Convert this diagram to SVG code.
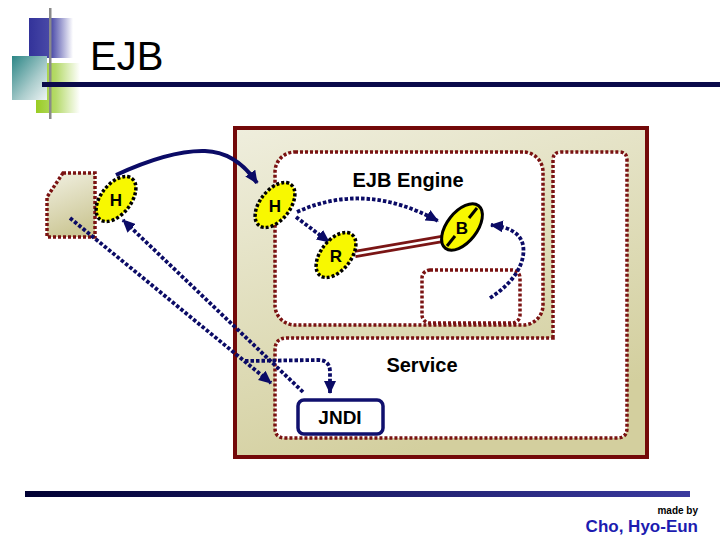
<svg xmlns="http://www.w3.org/2000/svg" width="720" height="540" viewBox="0 0 720 540">
<defs>
<style>
.t{font-family:"Liberation Sans",Arial,sans-serif;font-weight:bold;fill:#000}
.dred{fill:none;stroke:#7a1212;stroke-width:3.5;stroke-dasharray:3 2}
.dot{fill:none;stroke:#0b0b66;stroke-width:3.8;stroke-dasharray:3.5 2}
.ell{fill:#f8f800;stroke:#000;stroke-width:3.5;stroke-dasharray:3 2}
</style>
<linearGradient id="beige" x1="0" y1="0" x2="0.4" y2="1">
<stop offset="0" stop-color="#efeedd"/>
<stop offset="1" stop-color="#d3cf9e"/>
</linearGradient>
<linearGradient id="beige2" x1="0" y1="0" x2="0.3" y2="1">
<stop offset="0" stop-color="#f1f0e2"/>
<stop offset="1" stop-color="#cdc897"/>
</linearGradient>
<linearGradient id="blue" x1="0" y1="0" x2="1" y2="0">
<stop offset="0" stop-color="#33339a"/>
<stop offset="0.5" stop-color="#4a4aa8"/>
<stop offset="1" stop-color="#ffffff"/>
</linearGradient>
<linearGradient id="green" x1="0" y1="0" x2="1" y2="0">
<stop offset="0" stop-color="#99cc22"/>
<stop offset="0.45" stop-color="#b5da6a"/>
<stop offset="1" stop-color="#ffffff"/>
</linearGradient>
<linearGradient id="teal" x1="0" y1="0" x2="1" y2="1">
<stop offset="0" stop-color="#2c8686"/>
<stop offset="0.6" stop-color="#aacccc"/>
<stop offset="1" stop-color="#eef4f4"/>
</linearGradient>
<linearGradient id="bar" x1="0" y1="0" x2="1" y2="0">
<stop offset="0" stop-color="#000033"/>
<stop offset="1" stop-color="#3a3a9e"/>
</linearGradient>
<marker id="ah" markerUnits="userSpaceOnUse" markerWidth="14" markerHeight="12" refX="12" refY="6" orient="auto">
<path d="M0,0 L13,6 L0,12 z" fill="#0b0b66"/>
</marker>
</defs>

<g id="logo">
<rect x="29" y="18" width="44" height="40" fill="url(#blue)"/>
<rect x="36" y="63" width="44" height="50" fill="url(#green)"/>
<rect x="12" y="56" width="35" height="44" fill="url(#teal)"/>
<rect x="49" y="8" width="2.5" height="111" fill="#8a8a8a"/>
<rect x="42" y="82" width="678" height="5" fill="#0a0a4a"/>
</g>
<text class="t" x="90" y="70" font-size="40" style="font-weight:normal">EJB</text>

<g id="client">
<path d="M63 173 L95 173 L95 237 L47 237 L47 197 Z" class="dred" style="fill:url(#beige2)"/>
</g>

<g id="server">
<rect x="235" y="128" width="412" height="329" fill="url(#beige)" stroke="#730909" stroke-width="4"/>
</g>

<g id="service">
<path d="M553 338 L553 160 Q553 152 561 152 L619 152 Q627 152 627 160 L627 428 Q627 438 617 438 L285 438 Q275 438 275 428 L275 350 Q275 338 287 338 Z" class="dred" style="fill:#ffffff"/>
<text class="t" x="422" y="372" font-size="20" text-anchor="middle">Service</text>
</g>

<g id="engine">
<rect x="275" y="152" width="268" height="173" rx="20" class="dred" style="fill:#ffffff"/>
<text class="t" x="408" y="187" font-size="20" text-anchor="middle">EJB Engine</text>
</g>

<g id="pool">
<rect x="422" y="270" width="98" height="53" rx="8" class="dred"/>
</g>

<g id="jndi">
<rect x="298" y="400" width="85" height="34" rx="6" fill="#ffffff" stroke="#10106e" stroke-width="3.5"/>
<text class="t" x="340" y="424" font-size="19" text-anchor="middle">JNDI</text>
</g>

<g id="connectors">
<line x1="355" y1="254" x2="442" y2="239" stroke="#7a1515" stroke-width="8"/>
<line x1="355" y1="254" x2="442" y2="239" stroke="#ffffff" stroke-width="2.5"/>
<path d="M116 175 Q170 150 205 151 Q236 152 257 183" fill="none" stroke="#0b0b66" stroke-width="4" marker-end="url(#ah)"/>
<path d="M297 212 Q365 181 438 221" class="dot" marker-end="url(#ah)"/>
<path d="M296 217 L329 242" class="dot" marker-end="url(#ah)"/>
<path d="M490 298 C515 282 526 262 523 245 C520 232 508 227 491 225" class="dot" marker-end="url(#ah)"/>
<path d="M70 218 L271 383" class="dot" marker-end="url(#ah)"/>
<path d="M303 392 L123 220" class="dot" marker-end="url(#ah)"/>
<path d="M245 361 L318 360 Q330 360 330 372 L330 393" class="dot" marker-end="url(#ah)"/>
</g>

<g id="clientH">
<ellipse cx="116" cy="199" rx="26" ry="15" transform="rotate(-52 116 199)" class="ell"/>
<text class="t" x="116" y="206" font-size="17" text-anchor="middle">H</text>
</g>
<g id="engineH">
<ellipse cx="275" cy="205" rx="26" ry="15" transform="rotate(-52 275 205)" class="ell"/>
<text class="t" x="275" y="212" font-size="17" text-anchor="middle">H</text>
</g>
<g id="R">
<ellipse cx="336" cy="255" rx="26" ry="15" transform="rotate(-52 336 255)" class="ell"/>
<text class="t" x="336" y="262" font-size="17" text-anchor="middle">R</text>
</g>
<g id="B">
<ellipse cx="462" cy="227" rx="27" ry="15" transform="rotate(-52 462 227)" fill="#f8f800" stroke="#000" stroke-width="3"/>
<line x1="469" y1="218" x2="477" y2="208" stroke="#000" stroke-width="3"/>
<line x1="455" y1="236" x2="447" y2="246" stroke="#000" stroke-width="3"/>
<text class="t" x="462" y="234" font-size="17" text-anchor="middle">B</text>
</g>

<g id="footer">
<rect x="25" y="491" width="665" height="6" fill="url(#bar)"/>
<text class="t" x="698" y="514" font-size="10" text-anchor="end">made by</text>
<text class="t" x="698" y="532" font-size="17" text-anchor="end" style="fill:#1c1cb0">Cho, Hyo-Eun</text>
</g>
</svg>
